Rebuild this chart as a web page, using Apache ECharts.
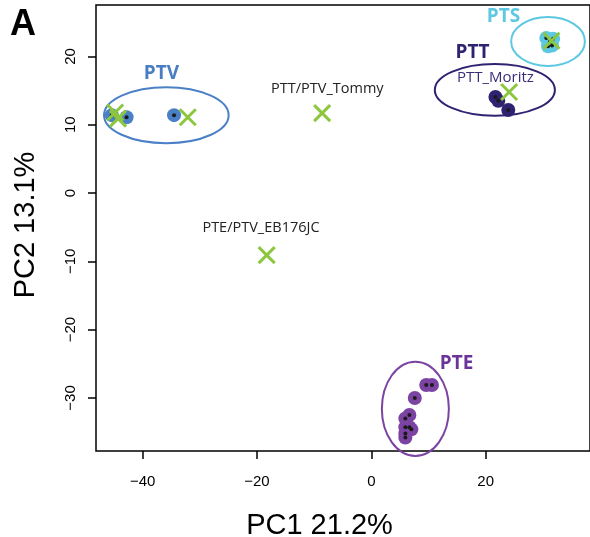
<!DOCTYPE html>
<html><head><meta charset="utf-8">
<script src="https://cdn.jsdelivr.net/npm/echarts@6/dist/echarts.min.js"></script>
<style>html,body{margin:0;padding:0;background:#fff}#c{width:590px;height:537px}</style>
</head><body><div id="c"></div>
<script>
// ---- data ----
const xTicks = [-40, -20, 0, 20];
const yTicks = [-30, -20, -10, 0, 10, 20];

const groupNames = ['PTV', 'PTS', 'PTT', 'PTE'];
const groupColors = ['#4a80c6', '#5cc8e2', '#2f2371', '#7b43a2'];
const groupLabelColors = ['#4a7ec4', '#5cc8e2', '#2f2371', '#6c3499'];

const ptvX = [-45.4, -42.8, -34.5];
const ptvY = [11.4, 11.1, 11.4];
const ptsX = [30.6, 31.2, 31.6, 30.9, 31.8];
const ptsY = [22.7, 22.1, 21.6, 21.5, 22.6];
const pttX = [21.7, 22.2, 23.95];
const pttY = [14.05, 13.5, 12.15];
const pteX = [9.6, 10.6, 7.6, 6.65, 5.95, 5.95, 6.65, 7.0, 5.95, 5.95];
const pteY = [-28.1, -28.1, -30.0, -32.5, -33.0, -34.3, -34.3, -34.6, -35.2, -35.8];

const refX = [-44.8, -44.3, -32.1, -8.6, -18.3, 24.1, 31.5];
const refY = [11.8, 10.9, 11.1, 11.7, -9.1, 14.8, 22.3];

const ellipseCX = [-35.85, 30.9, 21.6, 7.7];
const ellipseCY = [11.4, 22.2, 15.1, -31.6];
const ellipseRX = [10.9, 6.45, 10.5, 5.86];
const ellipseRY = [4.1, 3.59, 3.78, 6.9];

const groupLabelX = [-36.7, 23.1, 17.7, 14.9];
const groupLabelY = [17.5, 25.9, 20.5, -25.0];

const refLabels = ['PTT/PTV_Tommy', 'PTE/PTV_EB176JC', 'PTT_Moritz'];
const refLabelX = [-7.7, -19.3, 21.7];
const refLabelY = [15.2, -5.1, 16.9];
const refLabelColors = ['#222222', '#222222', '#3b2c78'];
const refLabelSizes = [14.5, 14.5, 15];

// ---- chart ----
const chart = echarts.init(document.getElementById('c'));
const minus = v => (v < 0 ? '\u2212' + Math.abs(v) : String(v));
const zip = (a, b) => a.map((v, i) => [v, b[i]]);

const groupPoints = [zip(ptvX, ptvY), zip(ptsX, ptsY), zip(pttX, pttY), zip(pteX, pteY)];

const series = [];
series.push({
  type: 'custom',
  clip: false,
  z: 2,
  data: ellipseCX.map((v, i) => [v, ellipseCY[i], ellipseRX[i], ellipseRY[i], i]),
  renderItem: function (params, api) {
    const c = api.coord([api.value(0), api.value(1)]);
    const s = api.size([api.value(2), api.value(3)]);
    const gi = api.value(4);
    return {
      type: 'ellipse',
      shape: { cx: c[0], cy: c[1], rx: s[0], ry: s[1] },
      style: { fill: 'none', stroke: groupColors[gi], lineWidth: 2 }
    };
  }
});
groupPoints.forEach((pts, gi) => {
  series.push({
    type: 'scatter', z: 3, data: pts, symbol: 'circle', symbolSize: 14,
    itemStyle: { color: groupColors[gi], opacity: 1 }, silent: true
  });
  series.push({
    type: 'scatter', z: 4, data: pts, symbol: 'circle', symbolSize: 4,
    itemStyle: { color: '#1a1a1a', opacity: 1 }, silent: true
  });
});
series.push({
  type: 'scatter', z: 5, data: zip(refX, refY),
  symbol: 'path://M0,0L10,10M10,0L0,10', symbolSize: 16,
  itemStyle: { color: 'none', borderColor: '#8dc63f', borderWidth: 3, opacity: 1 },
  silent: true
});
const textData = [];
groupNames.forEach((n, i) => textData.push([groupLabelX[i], groupLabelY[i], n, 'bold 19px "Open Sans"', groupLabelColors[i]]));
refLabels.forEach((n, i) => textData.push([refLabelX[i], refLabelY[i], n, refLabelSizes[i] + 'px "Open Sans"', refLabelColors[i]]));
series.push({
  type: 'custom', z: 6, clip: false,
  data: textData.map(d => [d[0], d[1]]),
  renderItem: function (params, api) {
    const d = textData[params.dataIndex];
    const c = api.coord([d[0], d[1]]);
    return {
      type: 'text',
      style: { text: d[2], x: c[0], y: c[1], align: 'center', verticalAlign: 'middle', font: d[3], fill: d[4] }
    };
  }
});

chart.setOption({
  animation: false,
  backgroundColor: '#fff',
  grid: { left: 96, top: 5, right: -2, bottom: 86, show: true, borderColor: '#000', borderWidth: 1.5, backgroundColor: 'transparent' },
  xAxis: {
    type: 'value', min: -48.15, max: 38.24,
    axisLine: { show: false, onZero: false }, splitLine: { show: false },
    axisTick: { show: true, customValues: xTicks, length: 8, lineStyle: { color: '#000', width: 1.5 } },
    axisLabel: { customValues: xTicks, formatter: minus, fontSize: 15, color: '#000', fontFamily: 'Liberation Sans', margin: 23 }
  },
  yAxis: {
    type: 'value', min: -37.77, max: 27.53,
    axisLine: { show: false, onZero: false }, splitLine: { show: false },
    axisTick: { show: true, customValues: yTicks, length: 8, lineStyle: { color: '#000', width: 1.5 } },
    axisLabel: { customValues: yTicks, formatter: minus, fontSize: 15, color: '#000', fontFamily: 'Liberation Sans', rotate: 90, margin: 18 }
  },
  graphic: [
    { type: 'text', left: 10, top: 7, style: { text: 'A', font: 'bold 36px "Liberation Sans"', fill: '#000' } },
    { type: 'text', x: 319.5, y: 526, style: { text: 'PC1 21.2%', font: '29px "Liberation Sans"', fill: '#000', align: 'center', verticalAlign: 'middle' } },
    { type: 'text', x: 26, y: 225, rotation: Math.PI / 2, style: { text: 'PC2 13.1%', font: '29px "Liberation Sans"', fill: '#000', align: 'center', verticalAlign: 'middle' } }
  ],
  series: series
});
</script>
</body></html>
